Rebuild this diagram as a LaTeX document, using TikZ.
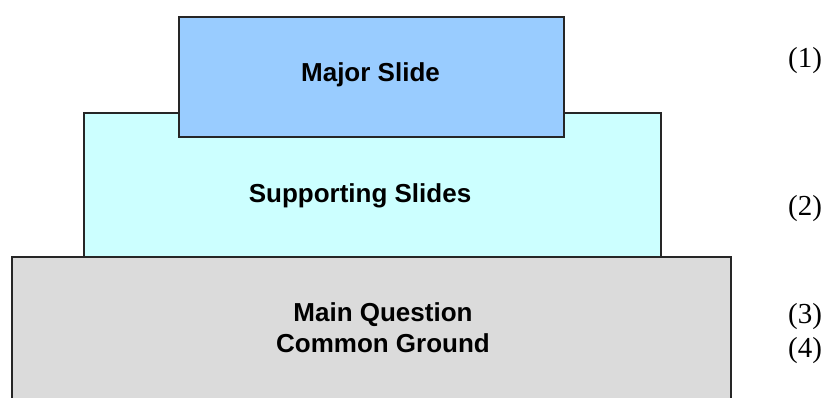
\documentclass[tikz,border=0pt]{standalone}
\usepackage{fontspec}
\setmainfont{Liberation Serif}
\newfontfamily\boxfont{Liberation Sans}
\begin{document}
\begin{tikzpicture}[x=1pt,y=-1pt,
  layer/.style={draw=black!85,line width=1.6pt,rectangle,inner sep=0pt,anchor=north west},
  boxtext/.style={font=\boxfont\bfseries\fontsize{26}{31}\selectfont,inner sep=0pt,anchor=base},
  tag/.style={font=\fontsize{29}{34}\selectfont,inner sep=0pt,anchor=base}]
  \useasboundingbox (0,0) rectangle (826,397);
  \clip (0,0) rectangle (826,397);
  % base layer, running off the lower edge
  \node[layer,fill=gray!28,minimum width=719pt,minimum height=160pt] (base) at (11,256) {};
  % middle layer
  \node[layer,fill={rgb,255:red,204;green,255;blue,255},minimum width=577pt,minimum height=144pt] (mid) at (83,112) {};
  % top layer
  \node[layer,fill={rgb,255:red,153;green,204;blue,255},minimum width=385pt,minimum height=120pt] (top) at (178,16) {};
  % labels
  \node[boxtext] (topt) at (370.5,81) {Major Slide};
  \node[boxtext] (midt) at (360,202) {Supporting Slides};
  \node[boxtext] (mq) at (383,321) {Main Question};
  \node[boxtext] (cg) at (383,352) {Common Ground};
  % level numbers
  \node[tag] (n1) at (805,67) {(1)};
  \node[tag] (n2) at (805,215) {(2)};
  \node[tag] (n3) at (805,323) {(3)};
  \node[tag] (n4) at (805,357) {(4)};
\end{tikzpicture}
\end{document}
